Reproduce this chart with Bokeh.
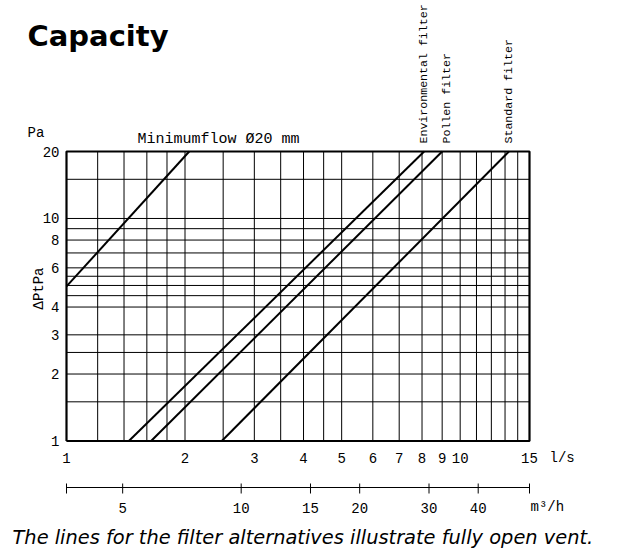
import math
from bokeh.plotting import figure
from bokeh.models import Range1d, LogScale, Label, LabelSet, ColumnDataSource
from bokeh.core.properties import value
from bokeh.embed import file_html
from bokeh.resources import INLINE

# ---------------- data ----------------
title_text = "Capacity"
caption_text = "The lines for the filter alternatives illustrate fully open vent."
y_unit_text = "Pa"
y_axis_text = "ΔPtPa"
x_unit_text = "l/s"
x2_unit_text = "m³/h"

min_flow_name = "Minimumflow Ø20 mm"
min_flow_q = [1.0, 2.05]
min_flow_dp = [4.95, 20.0]

env_name = "Environmental filter"
env_q = [1.44, 8.1]
env_dp = [1.0, 20.0]

pollen_name = "Pollen filter"
pollen_q = [1.64, 9.0]
pollen_dp = [1.0, 20.0]

standard_name = "Standard filter"
standard_q = [2.48, 13.3]
standard_dp = [1.0, 20.0]

x_ticks = [1, 2, 3, 4, 5, 6, 7, 8, 9, 10, 15]
x_tick_labels = ["1", "2", "3", "4", "5", "6", "7", "8", "9", "10", "15"]
y_ticks = [1, 2, 3, 4, 6, 8, 10, 20]
y_tick_labels = ["1", "2", "3", "4", "6", "8", "10", "20"]
x2_ticks = [5, 10, 15, 20, 30, 40]
x2_tick_labels = ["5", "10", "15", "20", "30", "40"]

x_grid = [1, 1.2, 1.4, 1.6, 1.8, 2, 2.5, 3, 3.5, 4, 4.5, 5, 6, 7, 8, 9,
          10, 11, 12, 13, 14, 15]
y_grid = [1, 1.5, 2, 2.5, 3, 4, 4.5, 5, 5.5, 6, 7, 8, 9, 10, 15, 20]

LS_TO_M3H = 3.6
x_min, x_max = 1, 15
y_min, y_max = 1, 20

# ---------------- geometry (pixels of the picture) ----------------
W, H = 613, 550
GL, GR, GT, GB = 66, 529, 151, 440.5      # grid box edges
AX2_Y = 487                               # m3/h axis line


def xd(px):
    return 10 ** (math.log10(x_max) * (px - GL) / (GR - GL))


def yd(py):
    return 10 ** (math.log10(y_max) * (GB - py) / (GB - GT))


MONO = "Liberation Mono"
SANS = "DejaVu Sans"

p = figure(width=W, height=H, output_backend="svg", toolbar_location=None,
           x_range=Range1d(xd(0), xd(W)), y_range=Range1d(yd(H), yd(0)),
           x_axis_type="log", y_axis_type="log",
           x_axis_location=None, y_axis_location=None,
           min_border=0)
p.grid.visible = False
p.outline_line_color = None
p.background_fill_color = "white"
p.border_fill_color = "white"

# secondary scale in m3/h
p.extra_x_ranges = {"m3h": Range1d(xd(0) * LS_TO_M3H, xd(W) * LS_TO_M3H)}
p.extra_x_scales = {"m3h": LogScale()}

# grid
n = len(x_grid)
p.segment(x0=x_grid, x1=x_grid, y0=[y_min] * n, y1=[y_max] * n,
          line_color="black", line_width=1)
m = len(y_grid)
p.segment(x0=[x_min] * m, x1=[x_max] * m, y0=y_grid, y1=y_grid,
          line_color="black", line_width=1)
# box
p.multi_line(xs=[[x_min, x_max, x_max, x_min, x_min]],
             ys=[[y_min, y_min, y_max, y_max, y_min]],
             line_color="black", line_width=2.2)

# curves
for q, dp in [(min_flow_q, min_flow_dp), (env_q, env_dp),
              (pollen_q, pollen_dp), (standard_q, standard_dp)]:
    p.line(q, dp, line_color="black", line_width=2)

# m3/h axis (line, ticks, labels) on the secondary scale
ends = [x_min * LS_TO_M3H, x_max * LS_TO_M3H]
p.segment(x0=[ends[0]], x1=[ends[1]], y0=[yd(AX2_Y)], y1=[yd(AX2_Y)],
          line_color="black", line_width=1, x_range_name="m3h")
t2 = [ends[0]] + x2_ticks + [ends[1]]
p.segment(x0=t2, x1=t2, y0=[yd(AX2_Y - 4)] * len(t2),
          y1=[yd(AX2_Y + 6)] * len(t2), line_color="black", line_width=1,
          x_range_name="m3h")
src2 = ColumnDataSource(dict(x=x2_ticks, y=[yd(507)] * len(x2_ticks),
                             text=x2_tick_labels))
p.add_layout(LabelSet(x="x", y="y", text="text", source=src2,
                      x_range_name="m3h",
                      text_align="center", text_baseline="middle",
                      text_font=value(MONO), text_font_size=value("14px"),
                      text_color="black"))

# x tick labels
src = ColumnDataSource(dict(x=x_ticks, y=[yd(457)] * len(x_ticks),
                            text=x_tick_labels))
p.add_layout(LabelSet(x="x", y="y", text="text", source=src,
                      text_align="center", text_baseline="middle",
                      text_font=value(MONO), text_font_size=value("14px"),
                      text_color="black"))

# y tick labels
srcy = ColumnDataSource(dict(x=[xd(59)] * len(y_ticks), y=y_ticks,
                             text=y_tick_labels))
p.add_layout(LabelSet(x="x", y="y", text="text", source=srcy,
                      text_align="right", text_baseline="middle",
                      text_font=value(MONO), text_font_size=value("14px"),
                      text_color="black"))


def lab(text, px, py, size="14px", font=MONO, align="left",
        baseline="middle", angle=0.0, style="normal"):
    p.add_layout(Label(x=xd(px), y=yd(py), text=text, text_font=font,
                       text_font_size=size, text_align=align,
                       text_baseline=baseline, angle=angle,
                       text_font_style=style, text_color="black"))


lab(title_text, 27, 35, size="29px", font=SANS, baseline="alphabetic",
    style="bold")
lab(y_unit_text, 27, 132)
lab(y_axis_text, 38, 288, align="center", angle=math.pi / 2)
lab(min_flow_name, 137, 139, size="15px")
lab(env_name, 423, 143, size="11.6px", angle=math.pi / 2)
lab(pollen_name, 446, 143, size="11.6px", angle=math.pi / 2)
lab(standard_name, 508, 143, size="11.6px", angle=math.pi / 2)
lab(x_unit_text, 549, 457)
lab(x2_unit_text, 530, 506)
lab(caption_text, 12, 537, size="19.4px", font=SANS, baseline="alphabetic",
    style="italic")

open("out.html", "w").write(file_html(p, INLINE))
